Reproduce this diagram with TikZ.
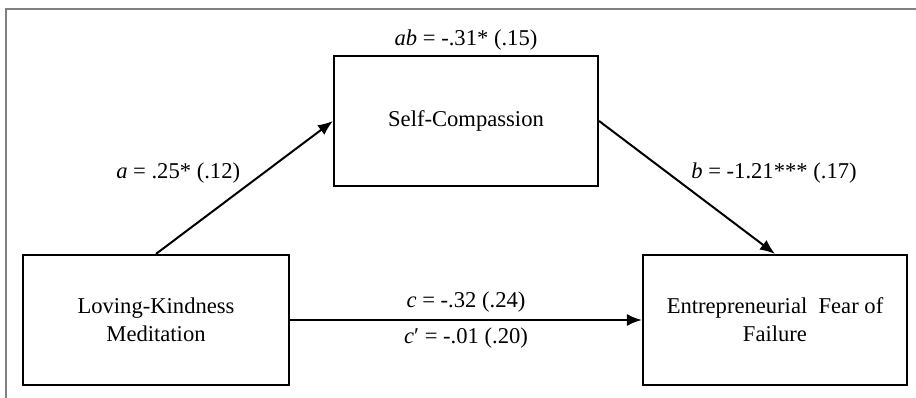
\documentclass[tikz,border=0pt]{standalone}
\usepackage{fontspec}
\setmainfont{Liberation Serif}
\usetikzlibrary{arrows.meta,positioning}

\tikzset{
  var/.style={draw, line width=2.2pt, minimum width=266pt, minimum height=130pt,
    align=center, font=\fontsize{22.6}{28}\selectfont},
  link/.style={line width=2pt, -{Latex[length=15pt,width=12pt]}},
  coef/.style={font=\fontsize{22.6}{28}\selectfont}
}

\begin{document}
\begin{tikzpicture}[x=1pt,y=-1pt]
  \useasboundingbox (0,0) rectangle (916,398);
  \draw[gray, line width=1.5pt] (6,398) -- (6,9) -- (916,9);

  % the three variables
  \node[var] (lkm) at (156,320) {Loving-Kindness\\Meditation};
  \node[var, minimum width=264pt] (sc) at (466,121) {Self-Compassion};
  \node[var, minimum width=264pt] (fof) at (775,320) {Entrepreneurial\ \ Fear of\\Failure};

  \node[coef, above=1pt of sc] (ab) {\textit{ab} = -.31* (.15)};

  % paths
  \draw[link] (lkm.north) -- node[coef, above left=0pt] (a) {\textit{a} = .25* (.12)} (sc.west);
  \draw[link] (sc.east) -- node[coef, above right=0pt] (b) {\textit{b} = -1.21*** (.17)} (fof.north);
  \draw[link] (lkm.east) -- node[coef, above=3pt] (c) {\textit{c} = -.32 (.24)}
    node[coef, below=3pt] (cp) {\textit{c}′ = -.01 (.20)} (fof.west);
\end{tikzpicture}
\end{document}
